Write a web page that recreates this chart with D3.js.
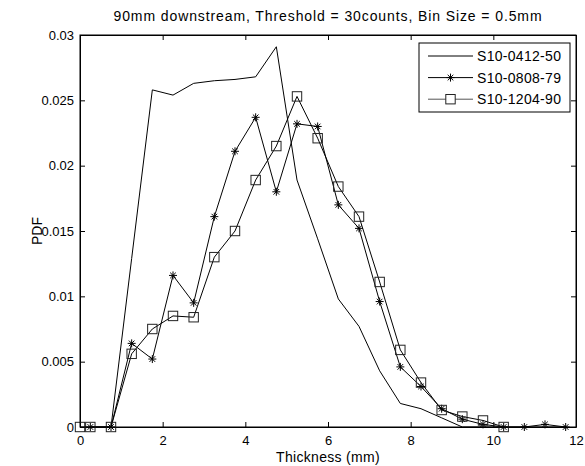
<!DOCTYPE html>
<html>
<head>
<meta charset="utf-8">
<script src="https://cdn.jsdelivr.net/npm/d3@7"></script>
<style>
    body { margin: 0; background: #fff; }
    svg { display: block; font-family: "Liberation Sans", Arial, sans-serif; }
    .axis path, .axis line { stroke: #000; }
    .axis text { font-size: 13px; fill: #000; }
</style>
</head>
<body>
<svg id="chart"></svg>
<script>
// bin centres (mm)
const binsA = [0.25, 0.75, 1.25, 1.75, 2.25, 2.75, 3.25, 3.75, 4.25, 4.75, 5.25, 5.75,
    6.25, 6.75, 7.25, 7.75, 8.25, 8.75, 9.25, 9.75, 10.25, 10.75, 11.25, 11.75];
const binsC = [0, 0.25, 0.75, 1.25, 1.75, 2.25, 2.75, 3.25, 3.75, 4.25, 4.75, 5.25, 5.75,
    6.25, 6.75, 7.25, 7.75, 8.25, 8.75, 9.25, 9.75, 10.25];

// PDF values
const pdf0412 = [0, 0, 0.0129, 0.0258, 0.0254, 0.0263, 0.0265, 0.0266, 0.0268, 0.0291, 0.0189, 0.0144,
    0.0098, 0.0077, 0.0043, 0.0018, 0.0014, 0.0007, 0, 0, 0, 0, 0, 0];
const pdf0808 = [0, 0, 0.0064, 0.0052, 0.0116, 0.0095, 0.0161, 0.0211, 0.0237, 0.0180, 0.0232, 0.0230,
    0.0170, 0.0152, 0.0096, 0.0046, 0.0031, 0.0014, 0.0006, 0.0002, 0, 0, 0.0002, 0];
const pdf1204 = [0, 0, 0, 0.0056, 0.0075, 0.0085, 0.0084, 0.0130, 0.0150, 0.0189, 0.0215, 0.0253, 0.0221,
    0.0184, 0.0161, 0.0111, 0.0059, 0.0034, 0.0013, 0.0008, 0.0005, 0];

const seriesNames = ['S10-0412-50', 'S10-0808-79', 'S10-1204-90'];
const xTicks = [0, 2, 4, 6, 8, 10, 12];
const yTicks = [0, 0.005, 0.01, 0.015, 0.02, 0.025, 0.03];
const yTickLabels = ['0', '0.005', '0.01', '0.015', '0.02', '0.025', '0.03'];

const config = {
    width: 585,
    height: 466,
    margin: { top: 35, right: 9, bottom: 39, left: 80 },
    tickLen: 5
};

const svg = d3.select('#chart')
    .attr('width', config.width)
    .attr('height', config.height);

const w = config.width - config.margin.left - config.margin.right;
const h = config.height - config.margin.top - config.margin.bottom;

const chart = svg.append('g')
    .attr('transform', `translate(${config.margin.left},${config.margin.top})`);

const xScale = d3.scaleLinear().domain([0, 12]).range([0, w]);
const yScale = d3.scaleLinear().domain([0, 0.03]).range([h, 0]);

// axes, matlab style: ticks pointing in, box all round
chart.append('g')
    .attr('class', 'axis')
    .attr('transform', `translate(0,${h})`)
    .call(d3.axisBottom(xScale).tickValues(xTicks).tickSizeInner(-config.tickLen).tickSizeOuter(0).tickPadding(9));

chart.append('g')
    .attr('class', 'axis')
    .call(d3.axisTop(xScale).tickValues(xTicks).tickSizeInner(-config.tickLen).tickSizeOuter(0).tickFormat(''));

chart.append('g')
    .attr('class', 'axis')
    .call(d3.axisLeft(yScale).tickValues(yTicks).tickSizeInner(-config.tickLen).tickSizeOuter(0).tickPadding(6)
        .tickFormat((d, i) => yTickLabels[i]));

chart.append('g')
    .attr('class', 'axis')
    .attr('transform', `translate(${w},0)`)
    .call(d3.axisRight(yScale).tickValues(yTicks).tickSizeInner(-config.tickLen).tickSizeOuter(0).tickFormat(''));

// series
const line = d3.line().x(d => xScale(d[0])).y(d => yScale(d[1]));

const dataA = binsA.map((x, i) => [x, pdf0412[i]]);
const dataB = binsA.map((x, i) => [x, pdf0808[i]]);
const dataC = binsC.map((x, i) => [x, pdf1204[i]]);

const starPath = 'M-4,0H4M0,-4V4M-2.8,-2.8L2.8,2.8M-2.8,2.8L2.8,-2.8';
const sq = 4.7;

function drawSeries(data, marker) {
    chart.append('path')
        .datum(data)
        .attr('fill', 'none')
        .attr('stroke', '#000')
        .attr('stroke-width', 1)
        .attr('d', line);
    if (marker === 'star') {
        chart.selectAll(null)
            .data(data)
            .join('path')
            .attr('d', starPath)
            .attr('transform', d => `translate(${xScale(d[0])},${yScale(d[1])})`)
            .attr('stroke', '#000')
            .attr('stroke-width', 1)
            .attr('fill', 'none');
    } else if (marker === 'square') {
        chart.selectAll(null)
            .data(data)
            .join('rect')
            .attr('x', d => xScale(d[0]) - sq)
            .attr('y', d => yScale(d[1]) - sq)
            .attr('width', sq * 2)
            .attr('height', sq * 2)
            .attr('stroke', '#222')
            .attr('stroke-width', 1)
            .attr('fill', 'none');
    }
}

drawSeries(dataA, null);
drawSeries(dataB, 'star');
drawSeries(dataC, 'square');

// box
chart.append('rect')
    .attr('width', w)
    .attr('height', h)
    .attr('fill', 'none')
    .attr('stroke', '#000');

// legend
const legend = svg.append('g').attr('transform', 'translate(419,43)');
legend.append('rect')
    .attr('width', 151)
    .attr('height', 69)
    .attr('fill', '#fff')
    .attr('stroke', '#000');

const markers = [null, 'star', 'square'];
seriesNames.forEach((name, i) => {
    const y = 13 + i * 21.6;
    legend.append('line')
        .attr('x1', 9).attr('x2', 54)
        .attr('y1', y).attr('y2', y)
        .attr('stroke', i === 2 ? '#555' : '#000');
    if (markers[i] === 'star') {
        legend.append('path').attr('d', starPath)
            .attr('transform', `translate(31.5,${y})`)
            .attr('stroke', '#000').attr('fill', 'none');
    } else if (markers[i] === 'square') {
        legend.append('rect')
            .attr('x', 31.5 - sq).attr('y', y - sq)
            .attr('width', sq * 2).attr('height', sq * 2)
            .attr('stroke', '#222').attr('fill', '#fff');
    }
    legend.append('text')
        .attr('x', 58)
        .attr('y', y)
        .attr('dy', '0.36em')
        .attr('font-size', 14)
        .attr('letter-spacing', 0.3)
        .text(name);
});

// labels
svg.append('text')
    .attr('x', config.margin.left + w / 2)
    .attr('y', 21)
    .attr('text-anchor', 'middle')
    .attr('font-size', 14)
    .attr('letter-spacing', 0.9)
    .text('90mm downstream, Threshold = 30counts, Bin Size = 0.5mm');

svg.append('text')
    .attr('x', config.margin.left + w / 2)
    .attr('y', 462)
    .attr('text-anchor', 'middle')
    .attr('font-size', 14)
    .attr('letter-spacing', 0.3)
    .text('Thickness (mm)');

svg.append('text')
    .attr('transform', `translate(42,${config.margin.top + h / 2}) rotate(-90)`)
    .attr('text-anchor', 'middle')
    .attr('font-size', 14)
    .text('PDF');
</script>
</body>
</html>
